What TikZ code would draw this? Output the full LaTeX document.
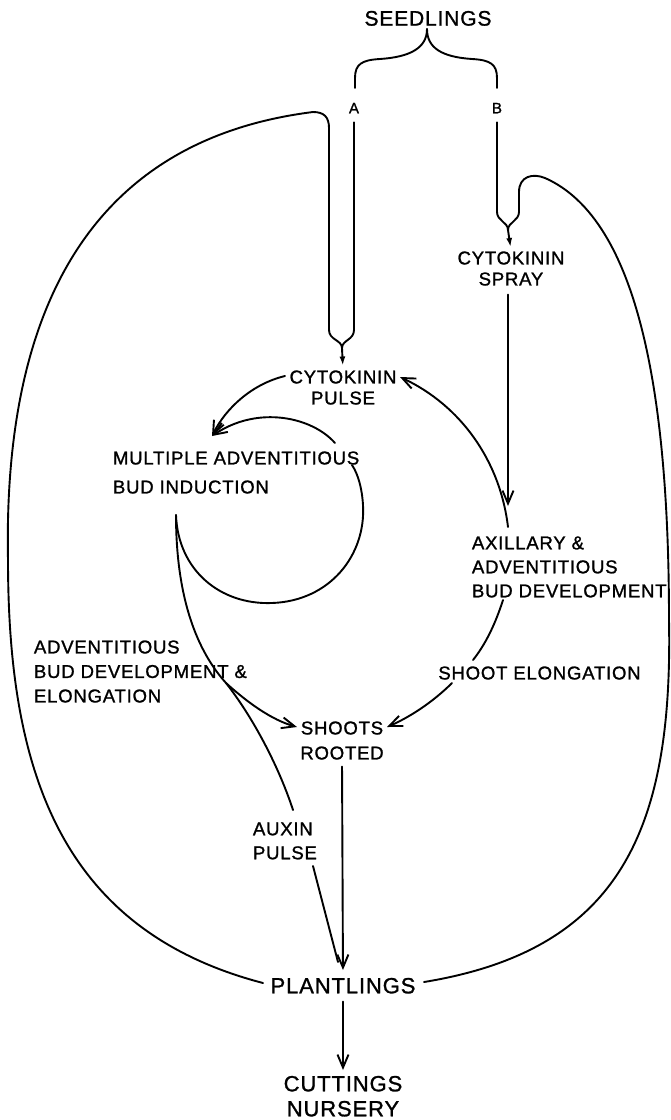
\documentclass[tikz,border=0pt]{standalone}
\usepackage{fontspec}
\setmainfont{Liberation Sans}[LetterSpace=4,FakeBold=1.2]
\usetikzlibrary{arrows.meta}
\begin{document}
\begin{tikzpicture}[x=1pt,y=-1pt,line width=1.9pt,line cap=round,line join=round,
  lbl/.style={inner sep=0pt,font=\fontsize{18.6}{#1}\selectfont},
  lbl/.default=21,
  bigl/.style={inner sep=0pt,font=\fontsize{22}{25}\selectfont},
  smll/.style={inner sep=0pt,font=\fontsize{15}{18}\selectfont},
  arr/.style={-{Straight Barb[length=13pt,width=11pt]}},
  ya/.style={-{Latex[length=9pt,width=6pt]}}]
\useasboundingbox (0,0) rectangle (671,1120);

% ---- nodes ----
\node[inner sep=0pt,font=\fontsize{21}{24}\selectfont,anchor=north] (seed) at (428,10) {SEEDLINGS};
\node[smll,anchor=north] (A) at (354,102) {A};
\node[smll,anchor=north] (B) at (497,102) {B};
\node[lbl=21,align=center,anchor=north] (cspray) at (511,250.5) {CYTOKININ\\SPRAY};
\node[lbl=21,align=center,anchor=north] (cpulse) at (343,369.5) {CYTOKININ\\PULSE};
\node[lbl=29,align=left,anchor=north west] (mult) at (112,450.5) {MULTIPLE ADVENTITIOUS\\BUD INDUCTION};
\node[lbl=24,align=left,anchor=north west] (axil) at (471,535.5) {AXILLARY \&\\ADVENTITIOUS\\BUD DEVELOPMENT};
\node[lbl=24.5,align=left,anchor=north west] (advdev) at (33,639.5) {ADVENTITIOUS\\BUD DEVELOPMENT \&\\ELONGATION};
\node[lbl,anchor=north] (shootel) at (539.5,665.5) {SHOOT ELONGATION};
\node[lbl=25,align=center,anchor=north] (shoots) at (342,720.5) {SHOOTS\\ROOTED};
\node[lbl=24,align=left,anchor=north west] (auxin) at (252,821.5) {AUXIN\\PULSE};
\node[bigl,anchor=north] (plant) at (343,977) {PLANTLINGS};
\node[bigl,align=center,anchor=north] (cut) at (343,1075) {CUTTINGS\\NURSERY};

% ---- coordinates ----
\coordinate (bt) at (427,29);
\coordinate (bl) at (355,88);
\coordinate (br) at (497,88);
\coordinate (ym) at (342,348);
\coordinate (ym2) at (508,230);
\coordinate (pl) at (263,983);
\coordinate (pr) at (424,982);
\coordinate (sprayend) at (508,506);
\coordinate (axn) at (508,527);
\coordinate (axs) at (503,600);
\coordinate (elA) at (473,660);
\coordinate (elB) at (452,683);
\coordinate (shR) at (387,727);
\coordinate (shL) at (297,727);
\coordinate (cpe) at (400,377);
\coordinate (cpw) at (285,376);
\coordinate (mtip) at (212,436);
\coordinate (bi) at (176,515);
\coordinate (loopA) at (352,465);
\coordinate (loopB) at (335,443);
\coordinate (split) at (226,683);
\coordinate (auxA) at (293,810);
\coordinate (auxB) at (313,866);
\coordinate (auxC) at (338,962);

% ---- brace ----
\draw (bl) -- (355,78) .. controls (355,64) and (362,60) .. (380,59) .. controls (410,57) and (427,48) .. (bt);
\draw (br) -- (497,78) .. controls (497,64) and (490,60) .. (472,59) .. controls (442,57) and (427,48) .. (bt);

% ---- route A and left outer loop ----
\draw ([yshift=-8pt]A.south) -- (354,330) .. controls (354,340) and (342,340) .. (ym);
\draw (pl) .. controls (60,930) and (8,770) .. (8,560) .. controls (3,310) and (90,140) .. (313,112)
  .. controls (324,112) and (329,117) .. (329,128) -- (329,330) .. controls (329,340) and (342,340) .. (ym);
\draw[ya,shorten >=4pt] (ym) -- (cpulse.north);

% ---- route B and right outer loop ----
\draw ([yshift=-8pt]B.south) -- (497,212) .. controls (497,221) and (508,222) .. (ym2);
\draw (pr) .. controls (620,950) and (673,830) .. (669,620) .. controls (669,400) and (640,220) .. (545,178)
  .. controls (533,173) and (519,176) .. (519,192) -- (519,212) .. controls (519,221) and (508,222) .. (ym2);
\draw[ya,shorten >=3.5pt] (ym2) -- (cspray.north);

% ---- spray to axillary ----
\draw[arr] ([xshift=-3pt,yshift=-8pt]cspray.south) -- (sprayend);
\draw[arr] (axn) .. controls (500,460) and (460,405) .. (cpe);
\draw (axs) .. controls (495,625) and (485,645) .. (elA);
\draw[arr] (elB) .. controls (432,703) and (408,718) .. (shR);

% ---- cytokinin pulse to multiple bud induction ----
\draw[arr] (cpw) .. controls (252,384) and (226,408) .. (mtip);
\draw (bi) .. controls (178,570) and (220,605) .. (272,603) .. controls (330,601) and (366,555) .. (363,505)
  .. controls (362,488) and (358,474) .. (loopA);
\draw[arr] (loopB) .. controls (312,417) and (258,405) .. (mtip);

% ---- adventitious development ----
\draw (bi) .. controls (176,600) and (198,652) .. (split);
\draw[arr] (split) .. controls (248,703) and (272,720) .. (shL);
\draw (split) .. controls (255,720) and (280,770) .. (auxA);
\draw (auxB) -- (auxC);

% ---- to plantlings and nursery ----
\draw[arr,shorten <=6pt,shorten >=7pt] (shoots.south) -- (plant.north);
\draw[arr,shorten <=7pt,shorten >=5pt] (plant.south) -- (cut.north);
\end{tikzpicture}
\end{document}
